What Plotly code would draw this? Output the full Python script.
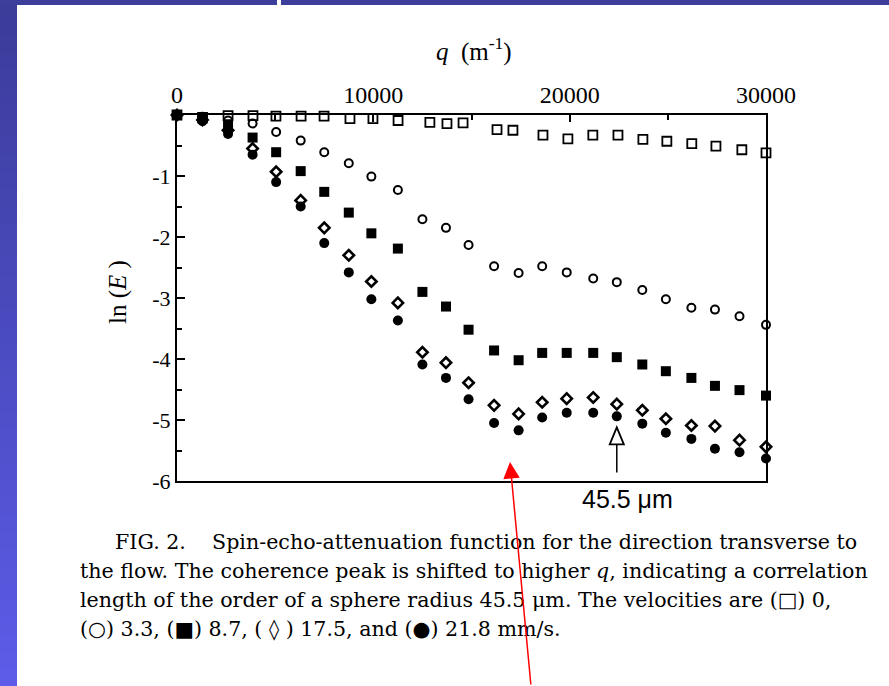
import plotly.graph_objects as go

# ---------------- data ----------------
q_v0 = [0, 1300, 2600, 3870, 5040, 6320, 7490, 8810, 9980, 11260, 12880, 13750, 14570,
        16300, 17110, 18640, 19910, 21180, 22460, 23730, 24950, 26220, 27450, 28770, 30000]
lnE_v0 = [0.0, -0.04, -0.01, -0.01, -0.02, -0.02, -0.02, -0.06, -0.06, -0.09, -0.12, -0.14, -0.13,
          -0.24, -0.25, -0.33, -0.39, -0.33, -0.33, -0.40, -0.43, -0.47, -0.51, -0.57, -0.62]

q_common = [0, 1300, 2600, 3850, 5050, 6300, 7500, 8750, 9900, 11250, 12500, 13700, 14850,
            16150, 17400, 18600, 19850, 21200, 22400, 23700, 24900, 26200, 27400, 28650, 30000]
lnE_v33 = [0.0, -0.03, -0.09, -0.14, -0.28, -0.42, -0.61, -0.79, -1.01, -1.23, -1.71, -1.85, -2.13,
           -2.48, -2.59, -2.48, -2.58, -2.68, -2.74, -2.87, -3.02, -3.16, -3.19, -3.30, -3.44]
lnE_v87 = [0.0, -0.06, -0.18, -0.37, -0.61, -0.92, -1.26, -1.60, -1.94, -2.19, -2.90, -3.14, -3.52,
           -3.86, -4.02, -3.90, -3.90, -3.90, -3.97, -4.09, -4.20, -4.31, -4.44, -4.51, -4.60]
lnE_v175 = [0.0, -0.08, -0.25, -0.55, -0.93, -1.40, -1.85, -2.30, -2.73, -3.08, -3.89, -4.06, -4.39,
            -4.76, -4.90, -4.71, -4.65, -4.63, -4.74, -4.84, -4.98, -5.09, -5.10, -5.33, -5.44]
lnE_v218 = [0.0, -0.10, -0.31, -0.65, -1.10, -1.50, -2.10, -2.58, -3.02, -3.37, -4.09, -4.31, -4.66,
            -5.05, -5.17, -4.96, -4.88, -4.88, -4.94, -5.06, -5.21, -5.31, -5.47, -5.53, -5.63]

x_tickvals = [0, 10000, 20000, 30000]
x_ticktext = ["0", "10000", "20000", "30000"]
y_tickvals = [-6, -5, -4, -3, -2, -1]
y_ticktext = ["-6", "-5", "-4", "-3", "-2", "-1"]

peak_q = 22400          # position of the 45.5 um marker arrow
peak_tip, peak_base, peak_bottom = -5.12, -5.40, -5.86

caption = [
    "FIG. 2.&nbsp;&nbsp;&nbsp;&nbsp;Spin-echo-attenuation function for the direction transverse to",
    "the flow. The coherence peak is shifted to higher <i>q</i>, indicating a correlation",
    "length of the order of a sphere radius 45.5 μm. The velocities are (□) 0,",
    "(○) 3.3, (■) 8.7, ( ◊ ) 17.5, and (●) 21.8 mm/s.",
]

# ---------------- layout geometry (pixels) ----------------
W, H = 889, 686
L, R, T, B = 177, 766, 115, 481


def px2x(px):
    return (px - L) / (R - L)


def py2y(py):
    return (B - py) / (B - T)


serif = "Liberation Serif, Times New Roman, serif"
capfont = "DejaVu Serif, serif"
sans = "Liberation Sans, Arial, sans-serif"

fig = go.Figure()

series = [
    (q_v0, lnE_v0, "square-open", 9, 1.8, "0"),
    (q_common, lnE_v33, "circle-open", 8, 2.0, "3.3"),
    (q_common, lnE_v87, "square", 10, 0, "8.7"),
    (q_common, lnE_v175, "diamond-open", 8, 2.6, "17.5"),
    (q_common, lnE_v218, "circle", 10, 0, "21.8"),
]
for qs, ys, sym, sz, lw, name in series:
    fig.add_trace(go.Scatter(
        x=qs, y=ys, mode="markers", name=name, cliponaxis=False,
        marker=dict(symbol=sym, size=sz, color="black",
                    line=dict(color="black", width=lw)),
        showlegend=False,
    ))

shapes = []
# left gradient bar
n = 40
c0 = (60, 60, 154)
c1 = (92, 92, 232)
step = H / n
for i in range(n):
    t = i / (n - 1)
    col = "rgb(%d,%d,%d)" % tuple(int(c0[k] + (c1[k] - c0[k]) * t) for k in range(3))
    y0 = step * i
    y1 = min(H + 2, step * (i + 1) + 3)
    shapes.append(dict(type="rect", xref="paper", yref="paper", layer="below",
                       x0=px2x(-2), x1=px2x(17), y0=py2y(y1), y1=py2y(y0),
                       line=dict(width=0), fillcolor=col))
# top bar
shapes.append(dict(type="rect", xref="paper", yref="paper", layer="below",
                   x0=px2x(-2), x1=px2x(277), y0=py2y(5), y1=py2y(-2),
                   line=dict(width=0), fillcolor="rgb(61,61,155)"))
shapes.append(dict(type="rect", xref="paper", yref="paper", layer="below",
                   x0=px2x(281), x1=px2x(W + 2), y0=py2y(5), y1=py2y(-2),
                   line=dict(width=0), fillcolor="rgb(61,61,155)"))

# 45.5 um arrow (open triangle head)
hw = 360
shapes.append(dict(type="line", xref="x", yref="y", x0=peak_q, x1=peak_q,
                   y0=peak_bottom, y1=peak_base, line=dict(color="black", width=1.5)))
shapes.append(dict(type="path", xref="x", yref="y",
                   path="M %f,%f L %f,%f L %f,%f Z" % (peak_q - hw, peak_base, peak_q, peak_tip,
                                                       peak_q + hw, peak_base),
                   line=dict(color="black", width=1.8), fillcolor="white"))

annotations = [
    dict(text="<i>q</i>&nbsp;&nbsp;(m<sup>-1</sup>)", x=px2x(474), y=py2y(50), xref="paper", yref="paper",
         xanchor="center", yanchor="middle",
         showarrow=False, font=dict(family=serif, size=25, color="black")),
    dict(text="ln (<i>E</i> )", x=px2x(118), y=py2y(292), xref="paper", yref="paper",
         xanchor="center", yanchor="middle",
         textangle=-90, showarrow=False, font=dict(family=serif, size=25, color="black")),
    dict(text="45.5 μm", x=px2x(627), y=py2y(499), xref="paper", yref="paper",
         xanchor="center", yanchor="middle",
         showarrow=False, font=dict(family=sans, size=25, color="black")),
]
cap_x = [113, 78, 78, 78]
cap_y = [542, 571, 600, 629]
for txt, cx, cy in zip(caption, cap_x, cap_y):
    annotations.append(dict(text=txt, x=px2x(cx), y=py2y(cy), xref="paper", yref="paper",
                            xanchor="left", yanchor="middle", showarrow=False,
                            font=dict(family=capfont, size=20.6, color="black")))
# red arrow
annotations.append(dict(text="", x=px2x(510), y=py2y(462), xref="paper", yref="paper",
                        ax=21, ay=235, showarrow=True, arrowhead=2, arrowsize=2.2,
                        arrowwidth=1.5, arrowcolor="red"))

fig.update_layout(
    width=W, height=H,
    margin=dict(l=L, r=W - R, t=T, b=H - B, pad=0),
    paper_bgcolor="white", plot_bgcolor="white",
    shapes=shapes, annotations=annotations,
    xaxis=dict(range=[0, 30000], side="top", showgrid=False, zeroline=False,
               showline=True, mirror=True, linecolor="black", linewidth=2,
               tickvals=x_tickvals, ticktext=x_ticktext, ticks="inside", ticklen=7,
               tickwidth=2, tickcolor="black",
               minor=dict(dtick=5000, ticks="inside", ticklen=5, tickwidth=1.5, tickcolor="black"),
               tickfont=dict(family=serif, size=24, color="black")),
    yaxis=dict(range=[-6, 0], showgrid=False, zeroline=False,
               showline=True, mirror=True, linecolor="black", linewidth=2,
               tickvals=y_tickvals, ticktext=y_ticktext, ticks="inside", ticklen=8,
               tickwidth=2, tickcolor="black",
               minor=dict(dtick=0.5, ticks="inside", ticklen=5, tickwidth=1.5, tickcolor="black"),
               tickfont=dict(family=serif, size=22, color="black")),
)

fig.write_html("out.html")
